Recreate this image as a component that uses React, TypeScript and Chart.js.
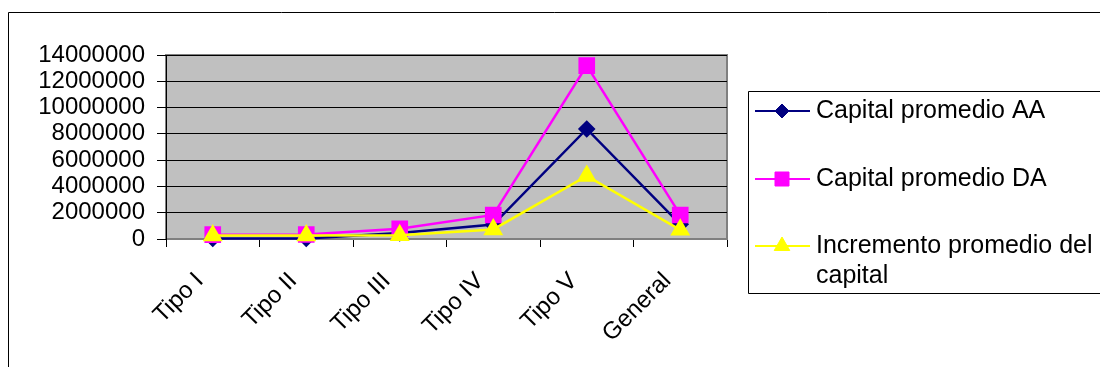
import React, { useEffect, useRef } from "react";
import { Chart, registerables } from "chart.js";

Chart.register(...registerables);

const categories = ["Tipo I", "Tipo II", "Tipo III", "Tipo IV", "Tipo V", "General"];
const capitalAA = [30000, 40000, 450000, 1100000, 8370000, 1120000];
const capitalDA = [330000, 340000, 780000, 1830000, 13190000, 1830000];
const incremento = [260000, 270000, 280000, 730000, 4800000, 700000];
const yTicks = [0, 2000000, 4000000, 6000000, 8000000, 10000000, 12000000, 14000000];
const legendLabels = [["Capital promedio AA"], ["Capital promedio DA"], ["Incremento promedio del", "capital"]];

const FONT = "'Liberation Sans', Arial, sans-serif";
const NAVY = "#000080";
const MAGENTA = "#FF00FF";
const YELLOW = "#FFFF00";

const framePlugin = {
  id: "frame",
  beforeDraw(chart: any) {
    const { ctx, chartArea: a } = chart;
    ctx.save();
    ctx.fillStyle = "#FFFFFF";
    ctx.fillRect(0, 0, chart.width, chart.height);
    ctx.strokeStyle = "#000000";
    ctx.lineWidth = 1;
    ctx.beginPath();
    ctx.moveTo(8.5, chart.height + 2);
    ctx.lineTo(8.5, 12.5);
    ctx.lineTo(chart.width + 2, 12.5);
    ctx.stroke();
    ctx.fillStyle = "#C0C0C0";
    ctx.fillRect(a.left, a.top, a.right - a.left, a.bottom - a.top);
    ctx.strokeStyle = "#808080";
    ctx.lineWidth = 2;
    ctx.strokeRect(a.left, a.top, a.right - a.left, a.bottom - a.top);
    ctx.restore();
  },
  afterDraw(chart: any) {
    const { ctx } = chart;
    ctx.save();
    ctx.strokeStyle = "#000000";
    ctx.lineWidth = 1;
    ctx.beginPath();
    ctx.moveTo(chart.width + 2, 91.5);
    ctx.lineTo(748.5, 91.5);
    ctx.lineTo(748.5, 293.5);
    ctx.lineTo(chart.width + 2, 293.5);
    ctx.stroke();
    const rowsY = [111, 179, 246];
    chart.data.datasets.forEach((ds: any, i: number) => {
      const y = rowsY[i];
      ctx.strokeStyle = ds.borderColor;
      ctx.lineWidth = 2;
      ctx.beginPath();
      ctx.moveTo(755, y);
      ctx.lineTo(810, y);
      ctx.stroke();
      ctx.fillStyle = ds.pointBackgroundColor;
      ctx.strokeStyle = ds.pointBorderColor;
      ctx.lineWidth = 1;
      const x = 782;
      ctx.beginPath();
      if (ds.pointStyle === "rectRot") {
        const r = 7;
        ctx.moveTo(x - r, y); ctx.lineTo(x, y - r); ctx.lineTo(x + r, y); ctx.lineTo(x, y + r);
      } else if (ds.pointStyle === "rect") {
        const s = 7;
        ctx.rect(x - s, y - s, 2 * s, 2 * s);
      } else {
        const r = 9;
        ctx.moveTo(x, y - r);
        ctx.lineTo(x + r * 0.866, y + r * 0.5);
        ctx.lineTo(x - r * 0.866, y + r * 0.5);
      }
      ctx.closePath();
      ctx.fill();
      ctx.stroke();
      ctx.fillStyle = "#000000";
      ctx.font = `25px ${FONT}`;
      ctx.textBaseline = "middle";
      ctx.textAlign = "left";
      legendLabels[i].forEach((line, j) => {
        ctx.fillText(line, 816, y + j * 30);
      });
    });
    ctx.restore();
  },
};

export default function App() {
  const ref = useRef<HTMLCanvasElement>(null);
  useEffect(() => {
    if (!ref.current) return;
    const chart = new Chart(ref.current, {
      type: "line",
      data: {
        labels: categories,
        datasets: [
          {
            label: "Capital promedio AA",
            data: capitalAA,
            borderColor: NAVY,
            backgroundColor: NAVY,
            pointBackgroundColor: NAVY,
            pointBorderColor: NAVY,
            pointStyle: "rectRot",
            pointRadius: 7,
            borderWidth: 2.5,
            order: 2,
            clip: false,
          },
          {
            label: "Capital promedio DA",
            data: capitalDA,
            borderColor: MAGENTA,
            backgroundColor: MAGENTA,
            pointBackgroundColor: MAGENTA,
            pointBorderColor: MAGENTA,
            pointStyle: "rect",
            pointRadius: 10,
            borderWidth: 2.5,
            order: 1,
            clip: false,
          },
          {
            label: "Incremento promedio del capital",
            data: incremento,
            borderColor: YELLOW,
            backgroundColor: YELLOW,
            pointBackgroundColor: YELLOW,
            pointBorderColor: YELLOW,
            pointStyle: "triangle",
            pointRadius: 9,
            borderWidth: 2.5,
            order: 0,
            clip: false,
          },
        ] as any,
      },
      options: {
        animation: false,
        responsive: false,
        maintainAspectRatio: false,
        devicePixelRatio: 1,
        layout: { padding: { left: 0, top: 55, right: 373, bottom: 0 } },
        plugins: { legend: { display: false }, tooltip: { enabled: false } },
        elements: { line: { tension: 0 } },
        scales: {
          x: {
            type: "category",
            offset: true,
            grid: {
              display: true,
              offset: true,
              drawOnChartArea: false,
              drawTicks: true,
              tickLength: 8,
              color: "#000000",
            },
            border: { display: true, color: "#808080", width: 1 },
            ticks: {
              autoSkip: false,
              maxRotation: 45,
              minRotation: 45,
              padding: 20,
              labelOffset: -13,
              color: "#000000",
              font: { family: FONT, size: 24 },
            },
            afterFit(scale: any) {
              scale.height = 128;
            },
          },
          y: {
            min: 0,
            max: 14000000,
            afterBuildTicks(scale: any) {
              scale.ticks = yTicks.map((v) => ({ value: v }));
            },
            grid: { color: "#000000", lineWidth: 1, tickLength: 9, drawTicks: true },
            border: { display: true, color: "#000000", width: 1 },
            ticks: {
              autoSkip: false,
              padding: 12,
              color: "#000000",
              font: { family: FONT, size: 24 },
              callback: (v: any) => String(v),
            },
            afterFit(scale: any) {
              scale.width = 166;
            },
          },
        },
      } as any,
      plugins: [framePlugin],
    });
    return () => chart.destroy();
  }, []);
  return (
    <div style={{ position: "fixed", left: 0, top: 0, width: 1100, height: 367, background: "#fff" }}>
      <canvas ref={ref} width={1100} height={367} style={{ width: 1100, height: 367, display: "block" }} />
    </div>
  );
}
